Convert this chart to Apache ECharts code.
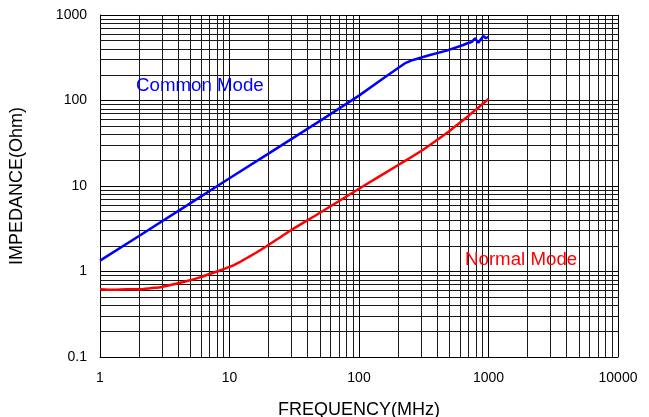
<!DOCTYPE html>
<html>
<head>
<meta charset="utf-8">
<script src="https://cdn.jsdelivr.net/npm/echarts@6/dist/echarts.min.js"></script>
<style>html,body{margin:0;padding:0;background:#fff;}#c{width:649px;height:417px;}</style>
</head>
<body>
<div id="c"></div>
<script>
// Common Mode impedance (Ohm) vs frequency (MHz)
const freqCM = [1, 2, 5, 10, 20, 50, 100, 145, 207, 230, 261, 353, 475, 638, 686, 740, 787, 834, 912, 955, 1000];
const zCM    = [1.34, 2.6, 6.3, 12.3, 23.9, 57.8, 114, 170, 248, 276, 298, 341, 383, 446, 467, 482, 534, 474, 568, 534, 557];
// Normal Mode impedance (Ohm) vs frequency (MHz)
const freqNM = [1, 1.3, 1.6, 2, 2.5, 3, 4, 5, 6, 8, 10, 12, 14, 16.5, 20, 25, 30, 50, 100, 207, 300, 400, 500, 600, 700, 763, 820, 870, 1000];
const zNM    = [0.62, 0.61, 0.62, 0.62, 0.64, 0.66, 0.73, 0.79, 0.86, 1.0, 1.13, 1.29, 1.47, 1.70, 2.04, 2.55, 3.06, 4.87, 9.3, 18.1, 25.5, 34.5, 44, 55, 66, 74, 80, 87, 104];
// Axis decades and minor multipliers
const xDecades = [1, 10, 100, 1000];
const yDecades = [0.1, 1, 10, 100];
const minorMult = [2, 3, 4, 5, 6, 7, 8, 9];

const FONT = '"Liberation Sans", Arial, sans-serif';
const minorLines = [];
xDecades.forEach(d => minorMult.forEach(m => minorLines.push({ xAxis: +(d * m).toPrecision(6) })));
yDecades.forEach(d => minorMult.forEach(m => minorLines.push({ yAxis: +(d * m).toPrecision(6) })));
const fmt = v => String(+(+v).toPrecision(6));

const chart = echarts.init(document.getElementById('c'), null, { renderer: 'canvas' });
chart.setOption({
  animation: false,
  backgroundColor: '#fff',
  grid: { left: 100, top: 15, width: 518, height: 342, containLabel: false, outerBoundsMode: 'none' },
  xAxis: {
    type: 'log', logBase: 10, min: 1, max: 10000,
    name: 'FREQUENCY(MHz)', nameLocation: 'middle', nameGap: 44,
    nameTextStyle: { fontFamily: FONT, fontSize: 18, color: '#000' },
    axisLine: { lineStyle: { color: '#000', width: 1 } },
    axisTick: { show: false },
    axisLabel: { fontFamily: FONT, fontSize: 14, color: '#000', margin: 14, formatter: fmt },
    splitLine: { show: true, lineStyle: { color: '#000', width: 1 } },
    minorTick: { show: false }, minorSplitLine: { show: false }
  },
  yAxis: {
    type: 'log', logBase: 10, min: 0.1, max: 1000,
    name: 'IMPEDANCE(Ohm)', nameLocation: 'middle', nameGap: 74, nameRotate: 90,
    nameTextStyle: { fontFamily: FONT, fontSize: 18, color: '#000' },
    axisLine: { lineStyle: { color: '#000', width: 1 } },
    axisTick: { show: false },
    axisLabel: { fontFamily: FONT, fontSize: 14, color: '#000', margin: 13, formatter: fmt },
    splitLine: { show: true, lineStyle: { color: '#000', width: 1 } },
    minorTick: { show: false }, minorSplitLine: { show: false }
  },
  series: [
    {
      name: 'grid', type: 'line', data: [], silent: true,
      markLine: {
        silent: true, symbol: ['none', 'none'], label: { show: false },
        lineStyle: { color: '#1a1a1a', width: 1, type: 'solid' },
        emphasis: { disabled: true },
        data: minorLines
      }
    },
    {
      name: 'Common Mode', type: 'line', showSymbol: false, smooth: false,
      lineStyle: { color: '#0000ff', width: 2.5 }, itemStyle: { color: '#0000ff' },
      data: freqCM.map((f, i) => [f, zCM[i]]), z: 5
    },
    {
      name: 'Normal Mode', type: 'line', showSymbol: false, smooth: 0.25,
      lineStyle: { color: '#ff0000', width: 2.5 }, itemStyle: { color: '#ff0000' },
      data: freqNM.map((f, i) => [f, zNM[i]]), z: 5
    }
  ],
  graphic: [
    { type: 'text', x: 136, y: 86, z: 10,
      style: { text: 'Common Mode', fill: '#0000ff', font: '18.7px ' + FONT, verticalAlign: 'middle', align: 'left' } },
    { type: 'text', x: 465, y: 260, z: 10,
      style: { text: 'Normal Mode', fill: '#ff0000', font: '18.7px ' + FONT, verticalAlign: 'middle', align: 'left' } }
  ]
});
</script>
</body>
</html>
